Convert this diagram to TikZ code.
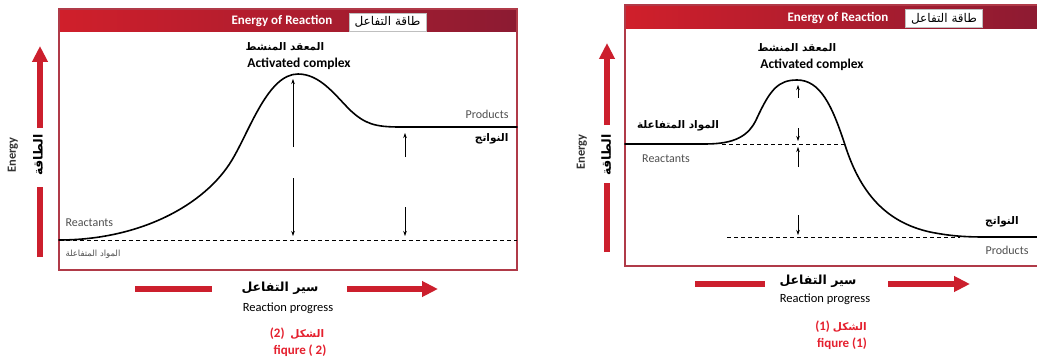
\documentclass[tikz,border=0pt]{standalone}
\usepackage{fontspec}
\setmainfont{Carlito}
\newfontfamily\arabicfont[Script=Arabic]{DejaVu Sans}
\TeXXeTstate=1
\usetikzlibrary{arrows.meta,calc}
\definecolor{hdl}{HTML}{D01F2B}
\definecolor{hdr}{HTML}{8C1B32}
\definecolor{frm}{HTML}{B03A48}
\definecolor{bar}{HTML}{CC1F2D}
\definecolor{capr}{HTML}{E5202E}
\definecolor{txtg}{HTML}{505050}

\begin{document}
\begin{tikzpicture}[x=1pt,y=-1pt,
  band/.style={left color=hdl,right color=hdr,draw=none},
  box/.style={draw=frm,line width=1.2pt},
  ttl/.style={text=white,font=\fontsize{13}{15}\selectfont\bfseries},
  tag/.style={fill=white,draw=black!25,minimum width=77pt,minimum height=18pt,inner sep=0pt,font=\fontsize{12}{14}\selectfont\arabicfont},
  ecurve/.style={line width=1.6pt,line cap=round},
  lvl/.style={dash pattern=on 4pt off 3pt,line width=0.8pt},
  gap/.style={-{Stealth[length=5pt,width=3.5pt]},line width=0.6pt},
  rbar/.style={draw=bar,line width=6pt},
  rarr/.style={rbar,-{Triangle[length=16pt,width=15pt]}},
  lbl/.style={text=txtg,font=\fontsize{12}{14}\selectfont},
  bl/.style={font=\fontsize{13.5}{15}\selectfont\bfseries},
  ar/.style={font=\fontsize{10.5}{13}\selectfont\arabicfont\bfseries},
  figcap/.style={text=capr,font=\fontsize{13}{15}\selectfont\bfseries}]
\clip (0,0) rectangle (1037,361);
\fill[white] (0,0) rectangle (1037,361);

% figure (2)
\draw[band] (59,9) rectangle (517,32);
\draw[box] (59,9) rectangle (517,270);
\node[ttl] (t2) at (282,21) {Energy of Reaction};
\node[tag] (g2) at (387.5,22) {\beginR طاقة التفاعل\endR};
\draw[ecurve] (59,240) .. controls (140,240) and (205,205) .. (232,160) .. controls (250,130) and (268,74) .. (298,74) .. controls (320,74) and (335,95) .. (350,110) .. controls (365,124) and (375,127) .. (400,127) -- (517,127);
\coordinate (r2l) at (59,240);
\coordinate (r2r) at (517,240);
\draw[lvl] (r2l) -- (r2r);
\coordinate (a2t) at (293,79);
\coordinate (a2m) at (293,147);
\coordinate (a2n) at (293,178);
\coordinate (a2b) at (293,236);
\coordinate (p2t) at (405,133);
\coordinate (p2m) at (405,157);
\coordinate (p2n) at (405,207);
\coordinate (p2b) at (405,236);
\draw[gap] (a2m) -- (a2t);
\draw[gap] (a2n) -- (a2b);
\draw[gap] (p2m) -- (p2t);
\draw[gap] (p2n) -- (p2b);
\node[ar] (c2a) at (285,47) {\beginR المعقد المنشط\endR};
\node[bl] (c2e) at (299,64) {Activated complex};
\node[lbl,anchor=east] (pr2e) at (512,114) {Products};
\node[ar,anchor=east] (pr2a) at (512,139) {\beginR النواتج\endR};
\node[lbl,anchor=west] (re2e) at (62,223) {Reactants};
\node[anchor=west,text=txtg,font=\fontsize{8.5}{10}\selectfont\arabicfont] (re2a) at (62,254) {\beginR المواد المتفاعلة\endR};
\coordinate (e2b) at (40,257);
\coordinate (e2l) at (40,187);
\coordinate (e2u) at (40,128);
\coordinate (e2t) at (40,46);
\draw[rbar] (e2b) -- (e2l);
\draw[rarr] (e2u) -- (e2t);
\node[rotate=90,font=\fontsize{12.5}{14}\selectfont\bfseries,text=black!80] (en2) at (13,155) {Energy};
\node[ar,rotate=90,font=\fontsize{12.5}{14}\selectfont\arabicfont\bfseries] (ea2) at (38,155) {\beginR الطاقة\endR};
\coordinate (x2a) at (135,289);
\coordinate (x2b) at (212,289);
\coordinate (x2c) at (347,289);
\coordinate (x2d) at (438,289);
\draw[rbar] (x2a) -- (x2b);
\draw[rarr] (x2c) -- (x2d);
\node[ar,font=\fontsize{12.5}{14}\selectfont\arabicfont\bfseries] (s2a) at (280,288) {\beginR سير التفاعل\endR};
\node[font=\fontsize{12.5}{14}\selectfont] (s2e) at (288,308) {Reaction progress};
\node[figcap] (f2a) at (297,334) {(2)~~{\arabicfont\fontsize{10.5}{13}\selectfont\beginR الشكل\endR}};
\node[figcap] (f2e) at (300,351) {fiqure ( 2)};

% figure (1)
\draw[band] (625,5) rectangle (1045,29);
\draw[box] (625,5) rectangle (1045,266);
\node[ttl] (t1) at (838,18) {Energy of Reaction};
\node[tag] (g1) at (944,18.5) {\beginR طاقة التفاعل\endR};
\draw[ecurve] (625,144) -- (705,144) .. controls (735,144) and (749,136) .. (757,118) .. controls (770,90) and (778,80) .. (797,80) .. controls (820,80) and (832,105) .. (845,145) .. controls (860,192) and (885,222) .. (930,232) .. controls (950,236) and (965,237) .. (985,237) -- (1040,237);
\coordinate (r1l) at (722,144);
\coordinate (r1r) at (846,144);
\coordinate (p1l) at (727,237);
\coordinate (p1r) at (960,237);
\draw[lvl] (r1l) -- (r1r);
\draw[lvl] (p1l) -- (p1r);
\coordinate (a1t) at (798,85);
\coordinate (a1m) at (798,98);
\coordinate (a1n) at (798,128);
\coordinate (a1b) at (798,141);
\coordinate (b1t) at (798,147);
\coordinate (b1m) at (798,167);
\coordinate (b1n) at (798,215);
\coordinate (b1b) at (798,235);
\draw[gap] (a1m) -- (a1t);
\draw[gap] (a1n) -- (a1b);
\draw[gap] (b1m) -- (b1t);
\draw[gap] (b1n) -- (b1b);
\node[ar] (c1a) at (797,48) {\beginR المعقد المنشط\endR};
\node[bl] (c1e) at (812,65) {Activated complex};
\node[ar] (re1a) at (678,126) {\beginR المواد المتفاعلة\endR};
\node[lbl] (re1e) at (666,159) {Reactants};
\node[ar] (pr1a) at (1002,222) {\beginR النواتج\endR};
\node[lbl] (pr1e) at (1007,250) {Products};
\coordinate (e1b) at (607,252);
\coordinate (e1l) at (607,183);
\coordinate (e1u) at (607,125);
\coordinate (e1t) at (607,43);
\draw[rbar] (e1b) -- (e1l);
\draw[rarr] (e1u) -- (e1t);
\node[rotate=90,font=\fontsize{12.5}{14}\selectfont\bfseries,text=black!80] (en1) at (582,152) {Energy};
\node[ar,rotate=90,font=\fontsize{12.5}{14}\selectfont\arabicfont\bfseries] (ea1) at (606,155) {\beginR الطاقة\endR};
\coordinate (x1a) at (695,284);
\coordinate (x1b) at (765,284);
\coordinate (x1c) at (888,284);
\coordinate (x1d) at (970,284);
\draw[rbar] (x1a) -- (x1b);
\draw[rarr] (x1c) -- (x1d);
\node[ar,font=\fontsize{12.5}{14}\selectfont\arabicfont\bfseries] (s1a) at (818,281) {\beginR سير التفاعل\endR};
\node[font=\fontsize{12.5}{14}\selectfont] (s1e) at (825,299) {Reaction progress};
\node[figcap] (f1a) at (841,327) {(1)~{\arabicfont\fontsize{10.5}{13}\selectfont\beginR الشكل\endR}};
\node[figcap] (f1e) at (842,344) {fiqure (1)};
\end{tikzpicture}
\end{document}
